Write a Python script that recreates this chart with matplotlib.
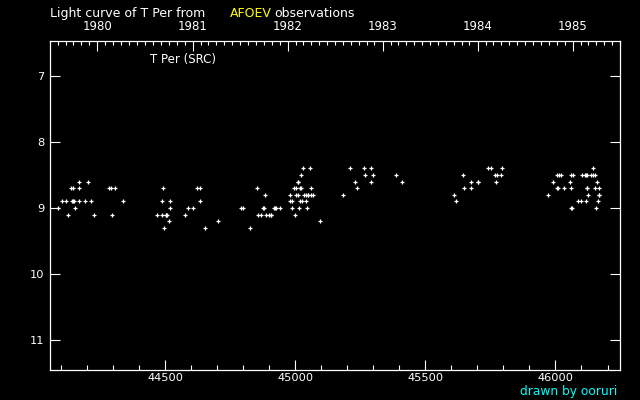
import matplotlib
matplotlib.use("Agg")
import matplotlib.pyplot as plt
from matplotlib.ticker import MultipleLocator, FixedLocator, NullLocator
import datetime

# ---- data: JD - 2400000 and visual magnitude, by observing season ----
s1_jd = [44170, 44204, 44139, 44146, 44170, 44285, 44293, 44308,
         44104, 44120, 44143, 44146, 44148, 44170, 44193, 44216, 44339,
         44090, 44154, 44127, 44227, 44296]
s1_mag = [8.6, 8.6, 8.7, 8.7, 8.7, 8.7, 8.7, 8.7,
          8.9, 8.9, 8.9, 8.9, 8.9, 8.9, 8.9, 8.9, 8.9,
          9.0, 9.0, 9.1, 9.1, 9.1]

s2_jd = [44492, 44623, 44635, 44489, 44519, 44635, 44519, 44589, 44608,
         44469, 44489, 44503, 44505, 44508, 44577, 44515, 44704, 44496, 44654]
s2_mag = [8.7, 8.7, 8.7, 8.9, 8.9, 8.9, 9.0, 9.0, 9.0,
          9.1, 9.1, 9.1, 9.1, 9.1, 9.1, 9.2, 9.2, 9.3, 9.3]

s3_jd = [45031, 45057, 45023, 45009, 45011,
         44854, 44996, 45004, 45019, 45022, 45061,
         44885, 44981, 45004, 45012, 45034, 45042, 45048, 45050, 45061, 45069,
         44981, 44988, 45019, 45027, 45042,
         44792, 44800, 44876, 44878, 44919, 44923, 44925, 44942, 44988, 45015, 45046,
         44858, 44869, 44888, 44900, 44906, 44908, 45000,
         45096, 44827]
s3_mag = [8.4, 8.4, 8.5, 8.6, 8.6,
          8.7, 8.7, 8.7, 8.7, 8.7, 8.7,
          8.8, 8.8, 8.8, 8.8, 8.8, 8.8, 8.8, 8.8, 8.8, 8.8,
          8.9, 8.9, 8.9, 8.9, 8.9,
          9.0, 9.0, 9.0, 9.0, 9.0, 9.0, 9.0, 9.0, 9.0, 9.0, 9.0,
          9.1, 9.1, 9.1, 9.1, 9.1, 9.1, 9.1,
          9.2, 9.3]

s4_jd = [45211, 45265, 45292, 45269, 45300, 45388, 45230, 45292, 45411, 45238, 45184]
s4_mag = [8.4, 8.4, 8.4, 8.5, 8.5, 8.5, 8.6, 8.6, 8.6, 8.7, 8.8]

s5_jd = [45742, 45753, 45796, 45646, 45769, 45775, 45792,
         45676, 45702, 45704, 45772, 45649, 45676, 45611, 45619]
s5_mag = [8.4, 8.4, 8.4, 8.5, 8.5, 8.5, 8.5,
          8.6, 8.6, 8.6, 8.6, 8.7, 8.7, 8.8, 8.9]

s6_jd = [46145,
         46007, 46015, 46022, 46061, 46068, 46103, 46114, 46116, 46122, 46138, 46145, 46153,
         45992, 46057, 46161,
         46006, 46008, 46034, 46061, 46121, 46123, 46153, 46168,
         45972, 46126, 46167, 46169,
         46088, 46099, 46118, 46165,
         46060, 46062, 46157]
s6_mag = [8.4,
          8.5, 8.5, 8.5, 8.5, 8.5, 8.5, 8.5, 8.5, 8.5, 8.5, 8.5, 8.5,
          8.6, 8.6, 8.6,
          8.7, 8.7, 8.7, 8.7, 8.7, 8.7, 8.7, 8.7,
          8.8, 8.8, 8.8, 8.8,
          8.9, 8.9, 8.9, 8.9,
          9.0, 9.0, 9.0]

years = [1980, 1981, 1982, 1983, 1984, 1985]
x_major = [44500, 45000, 45500, 46000]

W, H = 640, 400
fig = plt.figure(figsize=(6.4, 4.0), dpi=100, facecolor="black")
ax = fig.add_axes([50 / W, 1 - 370 / H, 570 / W, (370 - 40.7) / H])
ax.set_facecolor("black")

for jd, mg in [(s1_jd, s1_mag), (s2_jd, s2_mag), (s3_jd, s3_mag),
               (s4_jd, s4_mag), (s5_jd, s5_mag), (s6_jd, s6_mag)]:
    ax.plot(jd, mg, linestyle="none", marker="+", color="white",
            markersize=3.4, markeredgewidth=0.9)

ax.set_xlim(44057.5, 46248)
ax.set_ylim(11.4545, 6.465)

for sp in ax.spines.values():
    sp.set_color("white")
    sp.set_linewidth(0.9)

ax.xaxis.set_major_locator(FixedLocator(x_major))
ax.xaxis.set_minor_locator(MultipleLocator(100))
ax.set_xticklabels([str(v) for v in x_major])
ax.yaxis.set_major_locator(MultipleLocator(1))
ax.yaxis.set_minor_locator(NullLocator())

ax.tick_params(axis="both", which="both", direction="in", colors="white",
               labelcolor="white", labelsize=8.2, width=0.8)
ax.tick_params(axis="x", which="major", length=7.2, pad=2, top=False)
ax.tick_params(axis="x", which="minor", length=3.6, top=False)
ax.tick_params(axis="y", which="major", length=7.2, pad=4, right=True)

# top axis: calendar years
def jd_of(y, m):
    return (datetime.date(y, m, 1) - datetime.date(1970, 1, 1)).days + 40587.5

ax2 = ax.twiny()
ax2.set_xlim(ax.get_xlim())
ax2.xaxis.set_major_locator(FixedLocator([jd_of(y, 1) for y in years]))
ax2.set_xticklabels([str(y) for y in years])
months = [jd_of(y, m) for y in range(1979, 1987) for m in range(1, 13)]
ax2.xaxis.set_minor_locator(FixedLocator(months))
ax2.tick_params(axis="x", which="both", direction="in", colors="white",
                labelcolor="white", labelsize=8.5, width=0.8)
ax2.tick_params(axis="x", which="major", length=7.2, pad=5.5)
ax2.tick_params(axis="x", which="minor", length=3)
for sp in ax2.spines.values():
    sp.set_visible(False)

def px(x, y):
    return x / W, 1 - y / H

fig.text(*px(50, 17), "Light curve of T Per from", color="white", fontsize=9, va="baseline")
fig.text(*px(229.5, 17), "AFOEV", color="#ffff00", fontsize=9, va="baseline")
fig.text(*px(274, 17), "observations", color="white", fontsize=9, va="baseline")
fig.text(*px(150, 63), "T Per (SRC)", color="white", fontsize=8.5, va="baseline")
fig.text(*px(520, 395), "drawn by ooruri", color="#00ffff", fontsize=8.8, va="baseline")

fig.savefig("out.png", dpi=100, facecolor="black")
